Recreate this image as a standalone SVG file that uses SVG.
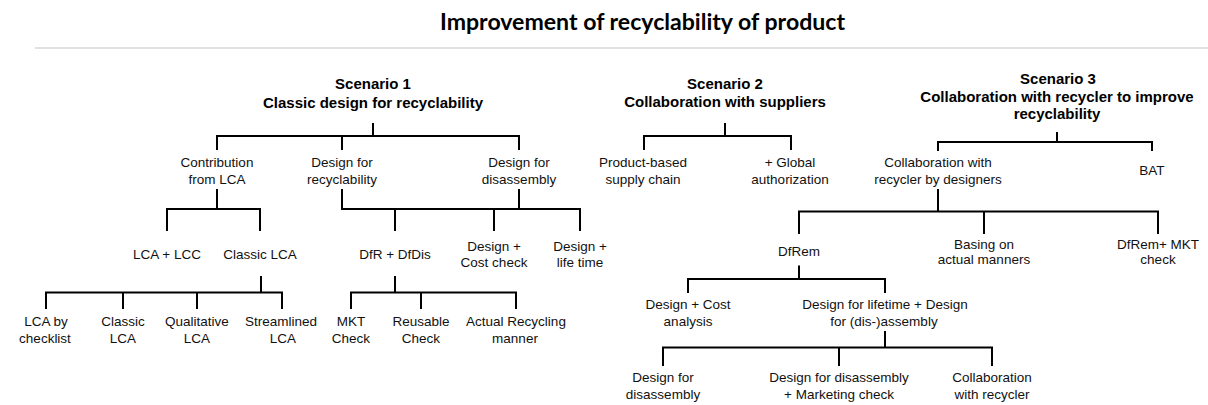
<svg xmlns="http://www.w3.org/2000/svg" width="1208" height="405" viewBox="0 0 1208 405">
<style>
text{font-family:"Liberation Sans",Arial,sans-serif;text-anchor:middle;fill:#111}
.t{font-size:13.5px}
.h{font-size:15px;font-weight:bold;fill:#000}
.title{font-family:Lato,"Liberation Sans",sans-serif;font-size:22px;font-weight:bold;fill:#000}
.c{fill:none;stroke:#000;stroke-width:2;stroke-linecap:square}
</style>
<rect width="1208" height="405" fill="#fff"/>
<g id="title">
<text class="title" x="642.5" y="30" textLength="405" lengthAdjust="spacingAndGlyphs">Improvement of recyclability of product</text>
<line x1="35" y1="48" x2="1208" y2="48" stroke="#c4c4c4" stroke-width="1.2"/>
</g>
<g id="connectors">
<path class="c" d="M373,124V136M217,136H519M217,136V149M342,136V149M519,136V149"/>
<path class="c" d="M217,190V209M167,209H260M167,209V230M260,209V230"/>
<path class="c" d="M342,190V209H580M395,209V230M494,209V230M580,209V230M519,190V209"/>
<path class="c" d="M261,277V292.5M46,292.5H282M46,292.5V308M123,292.5V308M197,292.5V308M282,292.5V308"/>
<path class="c" d="M395,277V292.5M351,292.5H516M351,292.5V308M421,292.5V308M516,292.5V308"/>
<path class="c" d="M725,124V136M644,136H791M644,136V149M791,136V149"/>
<path class="c" d="M1057,133V142M938,142H1152M938,142V150M1152,142V150"/>
<path class="c" d="M938,190V211.5M799,211.5H1158M799,211.5V233M984,211.5V233M1158,211.5V233"/>
<path class="c" d="M799,266.5V279M688,279H885M688,279V292M885,279V292"/>
<path class="c" d="M885,332V347.5M663,347.5H992M663,347.5V365M839,347.5V365M992,347.5V365"/>
</g>
<g id="scenario1"><text class="h" x="373" y="89">Scenario 1</text><text class="h" x="373" y="108">Classic design for recyclability</text></g>
<g id="contribution-lca"><text class="t" x="217" y="167">Contribution</text><text class="t" x="217" y="184">from LCA</text></g>
<g id="design-recyclability"><text class="t" x="342" y="167">Design for</text><text class="t" x="342" y="184">recyclability</text></g>
<g id="design-disassembly"><text class="t" x="519" y="167">Design for</text><text class="t" x="519" y="184">disassembly</text></g>
<g id="lca-lcc"><text class="t" x="167" y="259">LCA + LCC</text></g>
<g id="classic-lca"><text class="t" x="260" y="259">Classic LCA</text></g>
<g id="dfr-dfdis"><text class="t" x="395" y="259">DfR + DfDis</text></g>
<g id="design-cost-check"><text class="t" x="494" y="250.5">Design +</text><text class="t" x="494" y="267">Cost check</text></g>
<g id="design-life-time"><text class="t" x="580" y="250.5">Design +</text><text class="t" x="580" y="267">life time</text></g>
<g id="lca-checklist"><text class="t" x="46" y="326">LCA by</text><text class="t" x="45" y="343">checklist</text></g>
<g id="classic-lca-2"><text class="t" x="123" y="326">Classic</text><text class="t" x="123" y="343">LCA</text></g>
<g id="qualitative-lca"><text class="t" x="197" y="326">Qualitative</text><text class="t" x="197" y="343">LCA</text></g>
<g id="streamlined-lca"><text class="t" x="281" y="326">Streamlined</text><text class="t" x="283" y="343">LCA</text></g>
<g id="mkt-check"><text class="t" x="351" y="326">MKT</text><text class="t" x="351" y="343">Check</text></g>
<g id="reusable-check"><text class="t" x="421" y="326">Reusable</text><text class="t" x="421" y="343">Check</text></g>
<g id="actual-recycling"><text class="t" x="516" y="326">Actual Recycling</text><text class="t" x="515" y="343">manner</text></g>
<g id="scenario2"><text class="h" x="725" y="89">Scenario 2</text><text class="h" x="725" y="107">Collaboration with suppliers</text></g>
<g id="product-supply"><text class="t" x="643" y="167">Product-based</text><text class="t" x="643" y="184">supply chain</text></g>
<g id="global-auth"><text class="t" x="790" y="167">+ Global</text><text class="t" x="790" y="184">authorization</text></g>
<g id="scenario3"><text class="h" x="1058" y="84">Scenario 3</text><text class="h" x="1057" y="101.5">Collaboration with recycler to improve</text><text class="h" x="1057" y="119">recyclability</text></g>
<g id="collab-designers"><text class="t" x="938" y="167">Collaboration with</text><text class="t" x="938" y="183.5">recycler by designers</text></g>
<g id="bat"><text class="t" x="1152" y="175">BAT</text></g>
<g id="dfrem"><text class="t" x="799" y="255.5">DfRem</text></g>
<g id="basing-actual"><text class="t" x="984" y="249">Basing on</text><text class="t" x="984" y="264">actual manners</text></g>
<g id="dfrem-mkt"><text class="t" x="1158" y="249">DfRem+ MKT</text><text class="t" x="1158" y="264">check</text></g>
<g id="design-cost-analysis"><text class="t" x="688" y="309">Design + Cost</text><text class="t" x="688" y="325.5">analysis</text></g>
<g id="design-lifetime"><text class="t" x="885" y="309">Design for lifetime + Design</text><text class="t" x="884" y="325.5">for (dis-)assembly</text></g>
<g id="design-for-disassembly"><text class="t" x="663" y="382">Design for</text><text class="t" x="663" y="398.5">disassembly</text></g>
<g id="disassembly-marketing"><text class="t" x="839" y="382">Design for disassembly</text><text class="t" x="839" y="398.5">+ Marketing check</text></g>
<g id="collab-recycler"><text class="t" x="992" y="382">Collaboration</text><text class="t" x="992" y="398.5">with recycler</text></g>
</svg>
